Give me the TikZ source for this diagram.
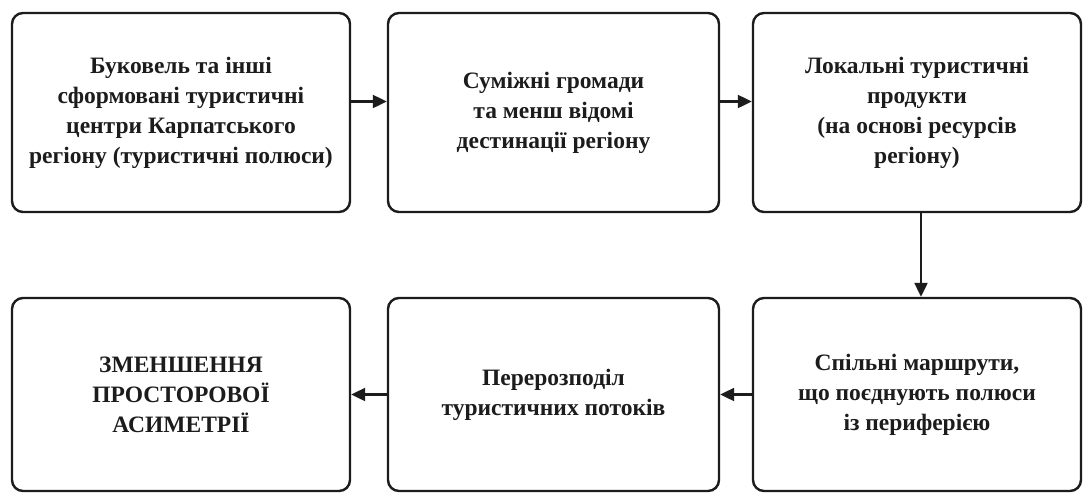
\documentclass[tikz,border=0pt]{standalone}
\usepackage{fontspec}
\setmainfont{Liberation Serif}
\usetikzlibrary{arrows.meta}
\definecolor{ink}{HTML}{1C1C1C}
\begin{document}
\begin{tikzpicture}[x=1pt,y=-1pt,
  stagebox/.style={draw=ink, line width=2.4pt, rounded corners=11pt, fill=white,
    align=center, inner sep=0pt, text=ink,
    font=\fontsize{23.5}{30}\selectfont\bfseries},
  flow/.style={draw=ink, line width=2.2pt, -{Triangle[length=14pt,width=13pt]}}]
  \useasboundingbox[fill=white] (0,0) rectangle (1083,493);
  % upper row
  \node[stagebox, minimum width=338pt, minimum height=199pt] (b1) at (181,112.5)
    {Буковель та інші\\сформовані туристичні\\центри Карпатського\\регіону (туристичні полюси)};
  \node[stagebox, minimum width=331pt, minimum height=199pt] (b2) at (553.5,112.5)
    {Суміжні громади\\та менш відомі\\дестинації регіону};
  \node[stagebox, minimum width=328pt, minimum height=199pt] (b3) at (917,112.5)
    {Локальні туристичні\\продукти\\(на основі ресурсів\\регіону)};
  % lower row
  \node[stagebox, minimum width=338pt, minimum height=193pt] (b4) at (181,394.5)
    {ЗМЕНШЕННЯ\\ПРОСТОРОВОЇ\\АСИМЕТРІЇ};
  \node[stagebox, minimum width=331pt, minimum height=193pt] (b5) at (553.5,394.5)
    {Перерозподіл\\туристичних потоків};
  \node[stagebox, minimum width=328pt, minimum height=193pt] (b6) at (917,394.5)
    {Спільні маршрути,\\що поєднують полюси\\із периферією};
  % connectors
  \draw[flow] ([yshift=11pt]b1.east) -- ([yshift=11pt]b2.west);
  \draw[flow] ([yshift=11pt]b2.east) -- ([yshift=11pt]b3.west);
  \draw[flow] ([xshift=4pt]b3.south) -- ([xshift=4pt]b6.north);
  \draw[flow] (b6.west) -- (b5.east);
  \draw[flow] (b5.west) -- (b4.east);
\end{tikzpicture}
\end{document}
